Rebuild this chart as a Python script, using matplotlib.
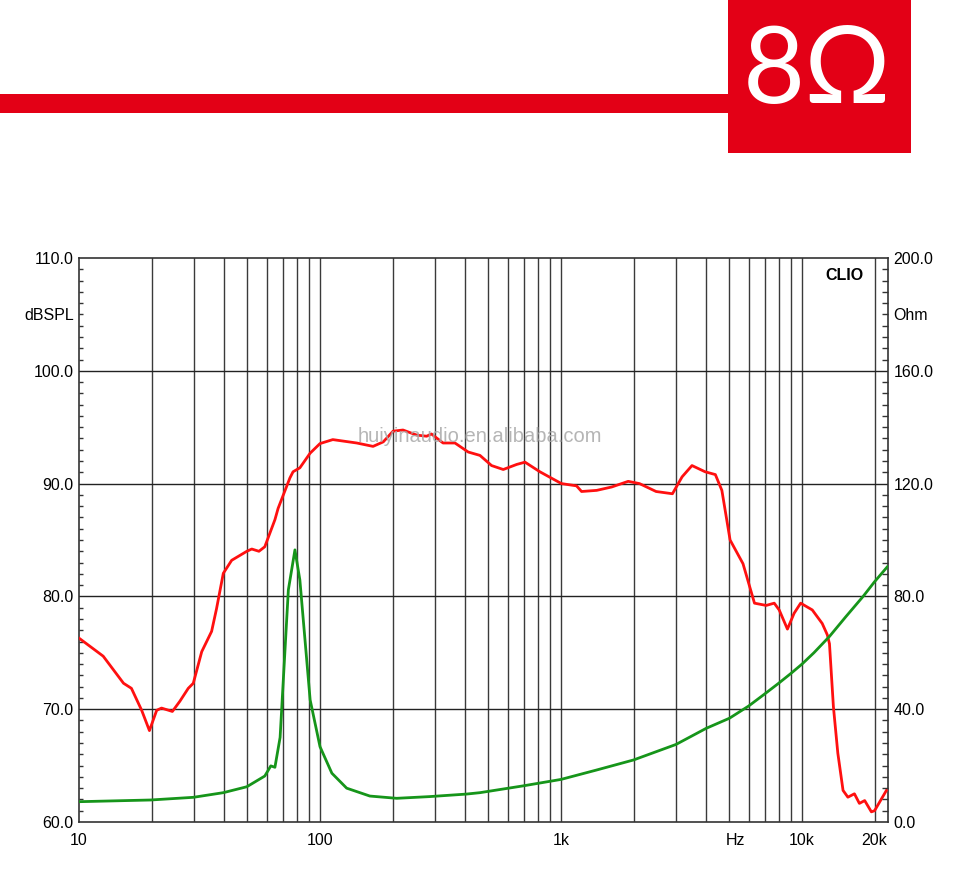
#!/usr/bin/env python
import numpy as np
import matplotlib
matplotlib.use('Agg')
import matplotlib.pyplot as plt
from matplotlib.patches import Rectangle
from matplotlib.ticker import FixedLocator, NullFormatter

# SPL curve (Hz, dBSPL)
spl_f = [10, 12.6, 15.3, 16.5, 18.2, 19.6, 21.0, 22.0, 24.4, 26.2, 28.4, 29.8,
         32.3, 35.5, 37.2, 39.7, 43.0, 49.7, 52.1, 55.8, 59.0, 65.0, 67.0, 75.0,
         77.3, 82.5, 91, 100, 113, 142, 166, 183, 201, 221, 252, 277, 290, 324,
         363, 412, 461, 515, 576, 655, 709, 817, 928, 1005, 1160, 1217, 1406,
         1623, 1900, 2117, 2480, 2900, 3180, 3495, 3960, 4370, 4650, 5030, 5690,
         6350, 7100, 7670, 8040, 8700, 9270, 9870, 11030, 12130, 12730, 13000,
         13500, 14080, 14800, 15500, 16500, 17300, 18200, 19400, 20000, 22400]
spl_db = [76.3, 74.7, 72.3, 71.85, 69.9, 68.1, 69.9, 70.1, 69.8, 70.7, 71.85, 72.3,
          75.1, 76.9, 78.9, 82.05, 83.2, 84.0, 84.2, 84.0, 84.4, 86.8, 87.8, 90.5,
          91.05, 91.4, 92.7, 93.55, 93.9, 93.6, 93.3, 93.7, 94.65, 94.75, 94.3, 94.2, 94.4, 93.6,
          93.6, 92.8, 92.5, 91.6, 91.25, 91.7, 91.9, 91.05, 90.4, 90.0, 89.8, 89.3, 89.4,
          89.7, 90.2, 90.0, 89.3, 89.1, 90.6, 91.6, 91.05, 90.8, 89.4, 85.0, 82.9,
          79.4, 79.2, 79.4, 78.8, 77.1, 78.5, 79.4, 78.8, 77.6, 76.6, 75.8,
          70.2, 66.1, 62.8, 62.2, 62.5, 61.65, 61.9, 60.9, 61.0, 62.8]

# impedance curve (Hz, Ohm)
imp_f = [10, 19.8, 29.8, 39.7, 49.7, 59.0, 62.5, 65, 68.3, 73.9, 78.7, 82.5, 91,
         100, 112, 129, 161, 208, 284, 405, 461, 695, 1000, 1400, 2000, 3000,
         4000, 5000, 6000, 7000, 8000, 9000, 10000, 11200, 13000, 15200, 17970,
         20000, 22600]
imp_ohm = [7.2, 7.8, 8.75, 10.4, 12.5, 16.3, 19.9, 19.4, 30.0, 82.3, 96.5, 85.8, 43.3,
           26.7, 17.3, 12.0, 9.2, 8.4, 9.0, 9.9, 10.4, 12.8, 15.1, 18.4, 22.0, 27.5,
           33.2, 36.8, 41.1, 45.4, 49.2, 52.7, 56.0, 60.0, 65.8, 72.8, 80.1,
           85.2, 90.5]

xtick_vals = [10, 100, 1000, 5270, 10000, 20000]
xtick_txt = ['10', '100', '1k', 'Hz', '10k', '20k']
db_ticks = [60, 70, 80, 90, 100, 110]
ohm_ticks = [0, 40, 80, 120, 160, 200]

plt.rcParams['font.family'] = ['Liberation Sans', 'DejaVu Sans']

fig = plt.figure(figsize=(9.6, 8.74), dpi=100)
red = '#e30016'
fs = 11.5

# header
fig.add_artist(Rectangle((0.758, 0.825), 0.1907, 0.175, transform=fig.transFigure,
                         facecolor=red, edgecolor='none'))
fig.add_artist(Rectangle((0.0, 0.871), 0.758, 0.0213, transform=fig.transFigure,
                         facecolor=red, edgecolor='none'))
fig.text(0.851, 0.882, '8\u03a9', color='white', fontsize=77, ha='center',
         va='baseline', family=['Lato', 'DejaVu Sans'], fontweight='normal')

ax = fig.add_axes([0.0823, 0.0595, 0.8427, 0.6453])
ax.set_xscale('log')
ax.set_xlim(10, 22740)
ax.set_ylim(60, 110)

minor = []
for dec in [10, 100, 1000, 10000]:
    for m in range(2, 10):
        if dec * m < 22000:
            minor.append(dec * m)
for v in [100, 1000, 10000] + minor:
    ax.axvline(v, color='#3a3a3a', lw=1.0, zorder=1)
for v in [70, 80, 90, 100]:
    ax.axhline(v, color='#222222', lw=1.0, zorder=1)

ax.xaxis.set_major_locator(FixedLocator(xtick_vals))
ax.set_xticklabels(xtick_txt)
ax.xaxis.set_minor_locator(FixedLocator([]))
ax.xaxis.set_minor_formatter(NullFormatter())
ax.tick_params(axis='x', which='both', length=0, labelsize=fs, pad=8)

ax.set_yticks(db_ticks)
ax.set_yticklabels(['%.1f' % v for v in db_ticks])
ax.yaxis.set_minor_locator(FixedLocator(np.arange(60, 111, 1)))
ax.tick_params(axis='y', which='major', length=0, labelsize=fs, pad=4)
ax.tick_params(axis='y', which='minor', direction='in', length=3, width=1, color='#333333')

for s in ax.spines.values():
    s.set_color('#333333')
    s.set_linewidth(1.2)

ax.plot(spl_f, spl_db, color='#ff1010', lw=2, zorder=4)

ax2 = ax.twinx()
ax2.set_ylim(0, 200)
ax2.set_yticks(ohm_ticks)
ax2.set_yticklabels(['%.1f' % v for v in ohm_ticks])
ax2.yaxis.set_minor_locator(FixedLocator(np.arange(0, 201, 4)))
ax2.tick_params(axis='y', which='major', length=0, labelsize=fs, pad=4)
ax2.tick_params(axis='y', which='minor', direction='in', length=4, width=1, color='#333333')
for s in ax2.spines.values():
    s.set_visible(False)
ax2.plot(imp_f, imp_ohm, color='#16951a', lw=2, zorder=3)

ax.text(-0.006, 0.898, 'dBSPL', transform=ax.transAxes, ha='right', va='center', fontsize=fs)
ax.text(1.006, 0.898, 'Ohm', transform=ax.transAxes, ha='left', va='center', fontsize=fs)
ax.text(0.97, 0.983, 'CLIO', transform=ax.transAxes, ha='right', va='top',
        fontsize=fs, fontweight='bold')
ax.text(0.496, 0.683, 'huiyinaudio.en.alibaba.com', transform=ax.transAxes, ha='center',
        va='center', fontsize=14.5, color='#a8a8a8', alpha=0.85, zorder=5)

fig.savefig('out.png', dpi=100)
